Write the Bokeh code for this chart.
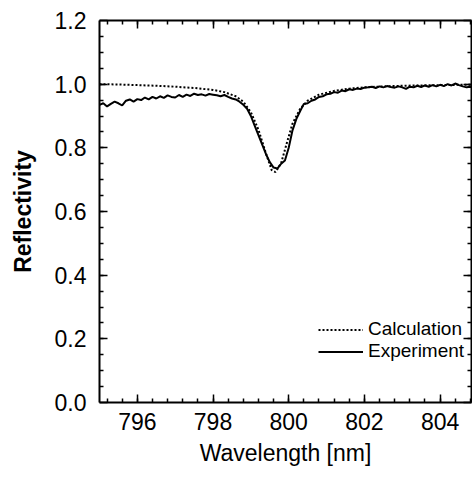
import numpy as np
from bokeh.plotting import figure
from bokeh.models import (LinearAxis, FixedTicker, Range1d, Legend, LegendItem,
                          CustomJSTickFormatter)
from bokeh.embed import file_html
from bokeh.resources import INLINE

# ---- data ----
calc_wl = [795.0, 795.5, 796.0, 796.5, 797.0, 797.5, 798.0, 798.3, 798.6, 798.8,
           799.0, 799.2, 799.4, 799.55, 799.65, 799.8, 799.95, 800.1, 800.3, 800.5,
           800.8, 801.2, 801.6, 802.0, 802.5, 803.0, 803.5, 804.0, 804.5, 805.0]
calc_r = [1.000, 0.999, 0.997, 0.995, 0.992, 0.988, 0.982, 0.975, 0.962, 0.945,
          0.912, 0.857, 0.782, 0.730, 0.724, 0.752, 0.815, 0.876, 0.922, 0.948,
          0.967, 0.979, 0.986, 0.990, 0.993, 0.995, 0.996, 0.997, 0.998, 0.998]

exp_wl = [round(795.0 + 0.1 * i, 1) for i in range(101)]
exp_r = [0.935, 0.940, 0.930, 0.938, 0.945, 0.940, 0.933, 0.948, 0.952, 0.945,
         0.953, 0.950, 0.958, 0.952, 0.960, 0.955, 0.962, 0.957, 0.965, 0.960,
         0.958, 0.966, 0.960, 0.967, 0.963, 0.970, 0.966, 0.968, 0.964, 0.969,
         0.967, 0.965, 0.962, 0.966, 0.960, 0.955, 0.952, 0.945, 0.935, 0.923,
         0.900, 0.870, 0.840, 0.810, 0.780, 0.755, 0.738, 0.735, 0.750, 0.760,
         0.800, 0.855, 0.890, 0.915, 0.938, 0.940, 0.948, 0.952, 0.960, 0.962,
         0.968, 0.970, 0.975, 0.973, 0.980, 0.978, 0.984, 0.982, 0.986, 0.985,
         0.989, 0.990, 0.992, 0.988, 0.993, 0.990, 0.994, 0.991, 0.989, 0.993,
         0.990, 0.985, 0.992, 0.990, 0.995, 0.991, 0.996, 0.992, 0.997, 0.993,
         0.998, 0.994, 1.000, 0.996, 1.002, 0.997, 0.993, 0.990, 0.992, 0.989,
         0.994]

x_major = [796, 798, 800, 802, 804]
y_major = [0.0, 0.2, 0.4, 0.6, 0.8, 1.0, 1.2]
y_tick_labels = {0.0: "0.0", 0.2: "0.2", 0.4: "0.4", 0.6: "0.6", 0.8: "0.8", 1.0: "1.0", 1.2: "1.2"}

FONT = "Liberation Sans"

p = figure(width=472, height=477, output_backend="svg", toolbar_location=None,
           x_range=Range1d(795.0, 804.83), y_range=Range1d(0.0, 1.2),
           x_axis_location=None, y_axis_location=None,
           min_border_left=99, min_border_right=1, min_border_top=20, min_border_bottom=75)
p.xgrid.visible = False
p.ygrid.visible = False
p.outline_line_color = None
p.background_fill_color = "white"
p.border_fill_color = "white"

xt = FixedTicker(ticks=x_major, minor_ticks=list(np.round(np.arange(795.2, 805.0, 0.4), 2)))
yt = FixedTicker(ticks=y_major, minor_ticks=list(np.round(np.arange(0.05, 1.2, 0.05), 2)))

def style(ax, labels=True):
    ax.axis_line_width = 2
    ax.axis_line_color = "black"
    ax.major_tick_in = 8
    ax.major_tick_out = 0
    ax.minor_tick_in = 4
    ax.minor_tick_out = 0
    ax.major_tick_line_width = 1.5
    ax.minor_tick_line_width = 1.5
    ax.major_tick_line_color = "black"
    ax.minor_tick_line_color = "black"
    ax.major_label_text_font = FONT
    ax.major_label_text_font_size = "23px"
    ax.major_label_text_color = "black"
    if not labels:
        ax.formatter = CustomJSTickFormatter(code="return '';")
        ax.major_label_standoff = 0

bottom = LinearAxis(ticker=xt)
style(bottom)
bottom.major_label_standoff = 10
bottom.axis_label = "Wavelength [nm]"
bottom.axis_label_text_font = FONT
bottom.axis_label_text_font_style = "normal"
bottom.axis_label_text_font_size = "23px"
bottom.axis_label_text_color = "black"
bottom.axis_label_standoff = 7
p.add_layout(bottom, "below")

top = LinearAxis(ticker=xt)
style(top, labels=False)
p.add_layout(top, "above")

left = LinearAxis(ticker=yt, major_label_overrides=y_tick_labels)
style(left)
left.major_label_standoff = 13
left.axis_label = "Reflectivity"
left.axis_label_text_font = FONT
left.axis_label_text_font_style = "bold"
left.axis_label_text_font_size = "23px"
left.axis_label_text_color = "black"
left.axis_label_standoff = 16
p.add_layout(left, "left")

right = LinearAxis(ticker=yt)
style(right, labels=False)
p.add_layout(right, "right")

r_calc = p.line(calc_wl, calc_r, line_color="black", line_width=2, line_dash="2 2")
r_exp = p.line(exp_wl, exp_r, line_color="black", line_width=2)

legend = Legend(items=[LegendItem(label="Calculation", renderers=[r_calc]),
                       LegendItem(label="Experiment", renderers=[r_exp])],
                location=(219, 40), orientation="vertical",
                background_fill_alpha=0, border_line_color=None,
                padding=0, margin=0, spacing=0,
                glyph_width=45, glyph_height=19, label_height=19,
                label_standoff=5,
                label_text_font=FONT, label_text_font_size="19px", label_text_color="black")
p.add_layout(legend, "center")

open("out.html", "w").write(file_html(p, INLINE))
